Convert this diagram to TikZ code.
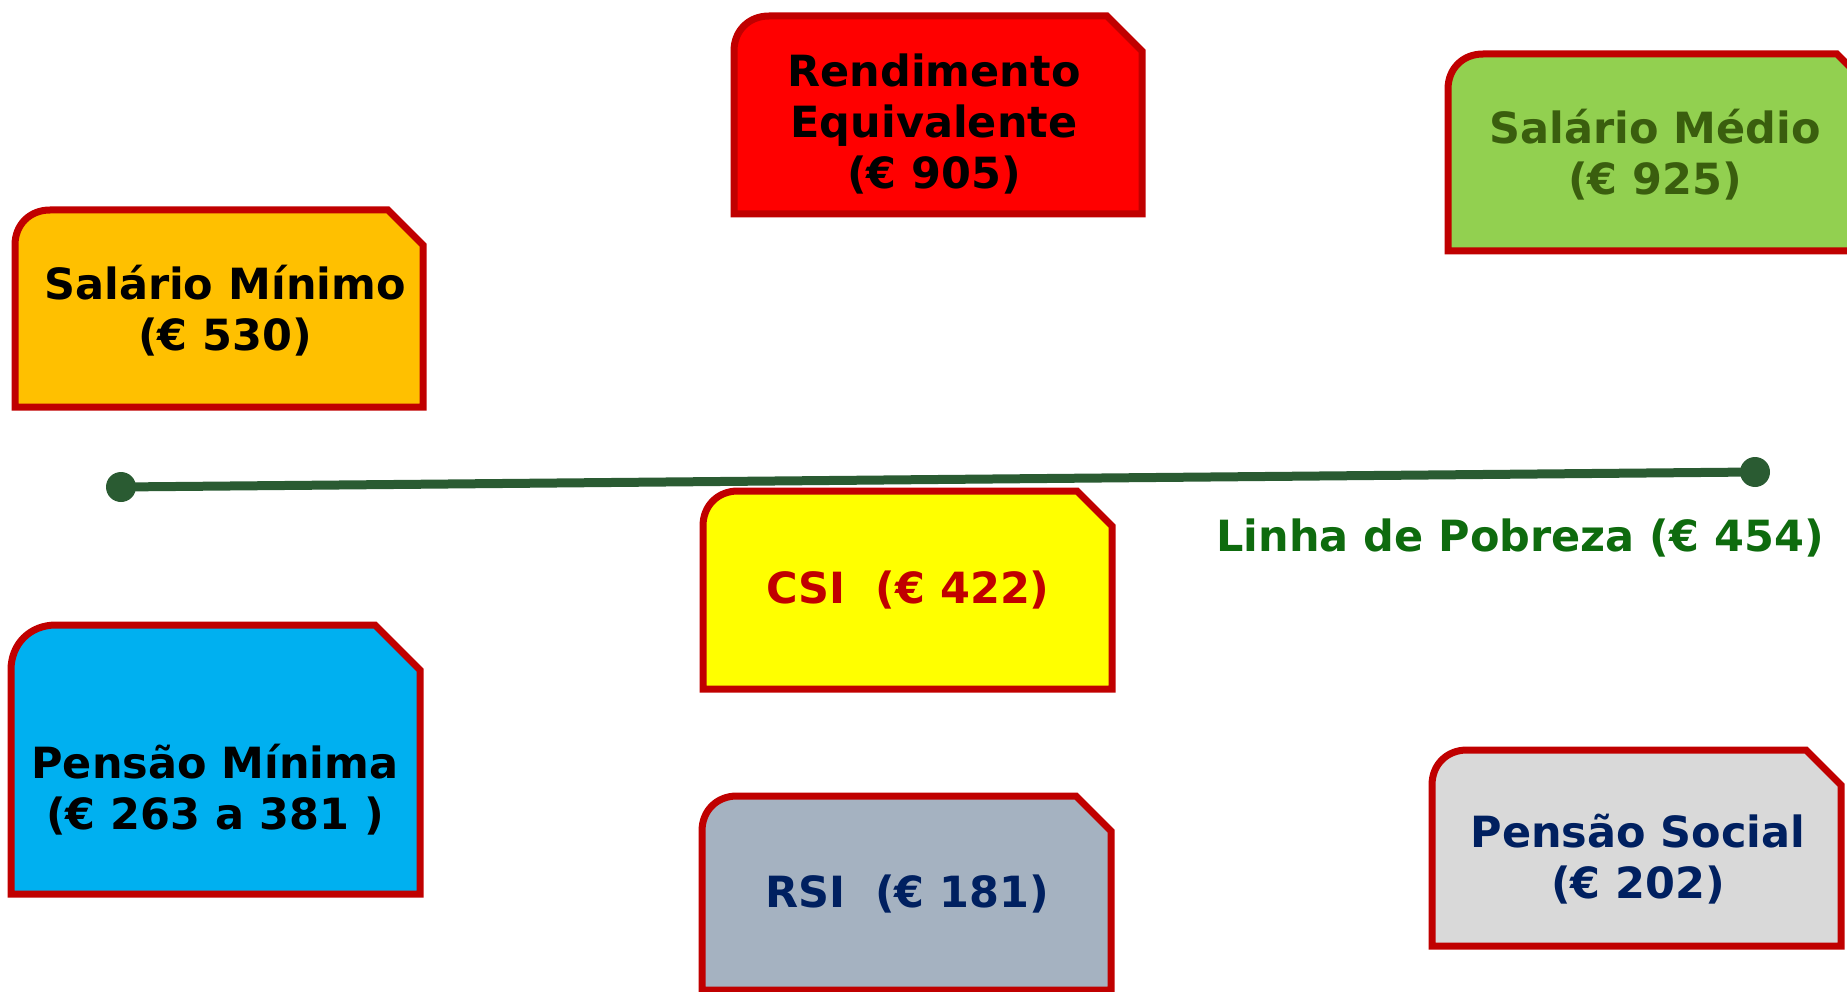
\documentclass[tikz,border=0pt]{standalone}
\usepackage{fontspec}
\setmainfont{DejaVu Sans}
\definecolor{cardred}{HTML}{C00000}
\definecolor{rendfill}{HTML}{FF0000}
\definecolor{mediofill}{HTML}{92D050}
\definecolor{minfill}{HTML}{FFC000}
\definecolor{csifill}{HTML}{FFFF00}
\definecolor{pminfill}{HTML}{00B0F0}
\definecolor{rsifill}{HTML}{A5B2C1}
\definecolor{psocfill}{HTML}{D9D9D9}
\definecolor{mediotext}{HTML}{3A5E0E}
\definecolor{navytext}{HTML}{002060}
\definecolor{linegreen}{HTML}{2A5B32}
\definecolor{pobtext}{HTML}{0E6B0E}
% x1 y1 x2 y2 fill corner
\newcommand{\cardbox}[6]{%
  \filldraw[cardline,fill=#5] (#1,#4) -- (#1,#2+#6) .. controls (#1,#2+0.42*#6) and (#1+0.42*#6,#2) .. (#1+#6,#2) -- (#3-#6,#2) -- (#3,#2+#6) -- (#3,#4) -- cycle;}
\begin{document}
\begin{tikzpicture}[x=1pt,y=-1pt,
  cardline/.style={draw=cardred,line width=7pt,line join=miter},
  lbl/.style={inner sep=0pt,align=center,font=\fontsize{43}{51}\selectfont\bfseries},
  dotnode/.style={circle,fill=linegreen,inner sep=0pt,minimum size=30pt}]
\useasboundingbox (0,0) rectangle (1847,992);
\begin{scope}
\clip (0,0) rectangle (1847,992);
\cardbox{734}{16}{1142}{214}{rendfill}{35}
\cardbox{1448}{54}{1872}{251}{mediofill}{35}
\cardbox{15}{210}{423}{407}{minfill}{35}
\cardbox{703}{491}{1112}{689}{csifill}{35}
\cardbox{11}{625}{420}{894}{pminfill}{45}
\cardbox{702}{796}{1111}{990}{rsifill}{35}
\cardbox{1432}{750}{1841}{946}{psocfill}{35}
\end{scope}
\node[lbl,text=black] (rend) at (934,124.5) {Rendimento\\Equivalente\\(€ 905)};
\node[lbl,text=mediotext] (medio) at (1655,155) {Salário Médio\\(€ 925)};
\node[lbl,text=black] (minimo) at (225,311) {Salário Mínimo\\(€ 530)};
\node[lbl,text=black] (pmin) at (215,790) {Pensão Mínima\\(€ 263 a 381 )};
\node[lbl,text=navytext] (psoc) at (1638,859) {Pensão Social\\(€ 202)};
\node[lbl,text=cardred,anchor=base] (csi) at (908,603) {CSI\ \ (€ 422)};
\node[lbl,text=navytext,anchor=base] (rsi) at (907,907) {RSI\ \ (€ 181)};
\node[lbl,text=pobtext,anchor=base] (pob) at (1520,551) {Linha de Pobreza (€ 454)};
\node[dotnode] (p1) at (121,487) {};
\node[dotnode] (p2) at (1755,472) {};
\draw[linegreen,line width=9pt] (p1.center) -- (p2.center);
\end{tikzpicture}
\end{document}
